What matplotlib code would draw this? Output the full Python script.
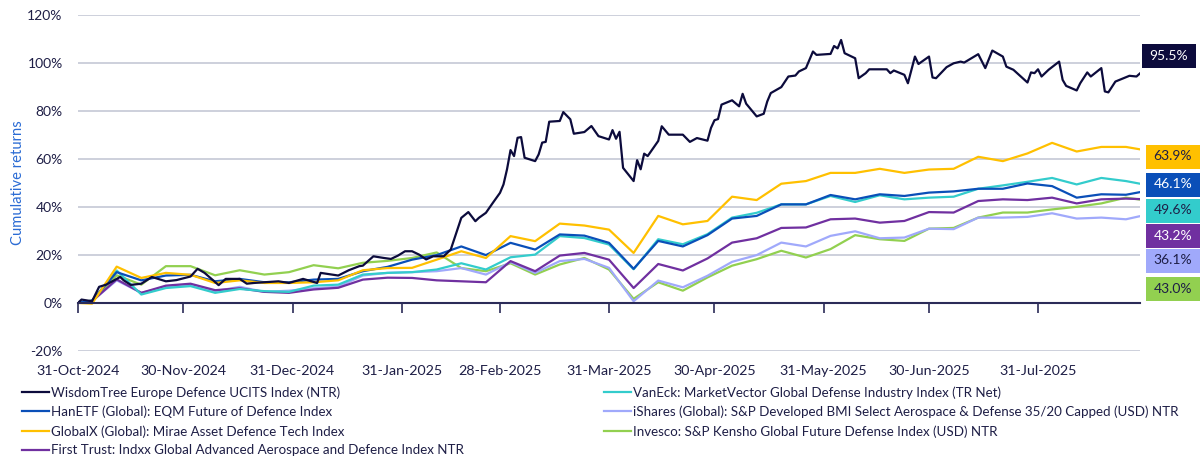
import matplotlib
matplotlib.use("Agg")
import matplotlib.pyplot as plt
from matplotlib.patches import Rectangle
from matplotlib.ticker import FuncFormatter
import pandas as pd

plt.rcParams["font.family"] = ["Lato", "DejaVu Sans"]

# weekly readings (Mondays) for the six peer indices, cumulative return in %
weekly_dates = [
    "2024-10-31", "2024-11-04", "2024-11-11", "2024-11-18", "2024-11-25",
    "2024-12-02", "2024-12-09", "2024-12-16", "2024-12-23", "2024-12-30",
    "2025-01-06", "2025-01-13", "2025-01-20", "2025-01-27", "2025-02-03",
    "2025-02-10", "2025-02-17", "2025-02-24", "2025-03-03", "2025-03-10",
    "2025-03-17", "2025-03-24", "2025-03-31", "2025-04-07", "2025-04-14",
    "2025-04-21", "2025-04-28", "2025-05-05", "2025-05-12", "2025-05-19",
    "2025-05-26", "2025-06-02", "2025-06-09", "2025-06-16", "2025-06-23",
    "2025-06-30", "2025-07-07", "2025-07-14", "2025-07-21", "2025-07-28",
    "2025-08-04", "2025-08-11", "2025-08-18", "2025-08-25", "2025-08-29",
]
hanetf = [0, 1.0, 12.8, 9.4, 11.4, 11.7, 9.0, 10.0, 8.6, 8.6, 9.7, 10.0, 13.2, 15.0, 18.0,
          19.9, 23.5, 19.9, 25.0, 22.2, 28.5, 28.0, 25.0, 14.2, 25.8, 23.5, 28.2, 35.1, 36.2, 41.0,
          41.0, 44.9, 43.1, 45.2, 44.5, 45.9, 46.4, 47.5, 47.5, 49.7, 48.6, 43.8, 45.2, 45.0, 46.1]
globalx = [0, -0.3, 15.1, 10.4, 12.5, 11.7, 8.3, 9.4, 8.3, 8.3, 8.6, 9.4, 13.6, 14.5, 14.6,
           18.0, 21.5, 18.7, 27.8, 25.7, 33.0, 32.2, 30.5, 20.8, 36.2, 32.7, 34.1, 44.2, 42.8, 49.6,
           50.7, 54.1, 54.1, 55.8, 54.1, 55.5, 55.8, 60.8, 59.0, 62.2, 66.6, 63.0, 64.9, 64.9, 63.9]
vaneck = [0, 0.8, 13.5, 3.5, 6.2, 7.0, 4.2, 5.8, 4.9, 4.6, 7.2, 7.6, 11.8, 12.5, 12.8,
          13.9, 16.5, 13.9, 19.0, 20.1, 27.8, 27.0, 24.3, 14.0, 26.5, 24.4, 28.6, 35.5, 37.5, 41.0,
          41.0, 44.5, 42.0, 44.8, 43.1, 43.8, 44.2, 47.5, 48.9, 50.4, 52.0, 49.3, 52.0, 50.7, 49.6]
first_trust = [0, 0.7, 9.8, 4.2, 7.2, 8.0, 5.3, 6.1, 4.6, 4.2, 5.6, 6.3, 9.7, 10.5, 10.4,
               9.4, 9.0, 8.6, 17.4, 13.2, 19.7, 20.8, 18.0, 6.2, 16.2, 13.5, 18.5, 25.1, 26.9, 31.2,
               31.4, 34.8, 35.1, 33.4, 34.1, 37.8, 37.6, 42.4, 43.1, 42.8, 43.8, 41.4, 43.1, 43.4, 43.2]
ishares = [0, 0.8, 9.4, 4.2, 6.7, 7.5, 4.9, 6.7, 4.6, 5.1, 6.1, 6.7, 11.4, 12.5, 12.8,
           13.2, 14.5, 11.8, 17.0, 12.5, 17.4, 18.3, 14.6, 0.7, 9.3, 6.5, 11.3, 17.1, 19.9, 25.1,
           23.5, 27.9, 29.8, 26.9, 27.2, 30.9, 30.7, 35.5, 35.5, 35.8, 37.3, 35.1, 35.5, 34.8, 36.1]
invesco = [0, 1.0, 11.5, 7.6, 15.3, 15.3, 11.5, 13.6, 11.8, 12.8, 15.7, 14.4, 16.7, 17.5, 18.7,
           21.0, 14.5, 13.2, 16.5, 11.8, 16.0, 18.7, 13.9, 1.7, 8.6, 5.1, 10.6, 15.5, 18.2, 21.7,
           18.9, 22.4, 28.2, 26.5, 25.8, 30.9, 31.2, 35.5, 37.6, 37.6, 38.9, 40.0, 41.4, 43.8, 43.0]

# WisdomTree read at its turning points
wisdomtree_dates = [
    "2024-10-31", "2024-11-01", "2024-11-04", "2024-11-06", "2024-11-08", "2024-11-12",
    "2024-11-13", "2024-11-15", "2024-11-18", "2024-11-21", "2024-11-25", "2024-11-28",
    "2024-12-02", "2024-12-04", "2024-12-06", "2024-12-10", "2024-12-12", "2024-12-16",
    "2024-12-18", "2024-12-20", "2024-12-27", "2024-12-30", "2025-01-03", "2025-01-07",
    "2025-01-08", "2025-01-13", "2025-01-16", "2025-01-19", "2025-01-20", "2025-01-23",
    "2025-01-26", "2025-01-28", "2025-01-30", "2025-02-01", "2025-02-03", "2025-02-05",
    "2025-02-07", "2025-02-09", "2025-02-12", "2025-02-14", "2025-02-17", "2025-02-19",
    "2025-02-21", "2025-02-22", "2025-02-24", "2025-02-26", "2025-02-28", "2025-03-01",
    "2025-03-02", "2025-03-03", "2025-03-04", "2025-03-05", "2025-03-06", "2025-03-07",
    "2025-03-10", "2025-03-11", "2025-03-12", "2025-03-13", "2025-03-14", "2025-03-17",
    "2025-03-18", "2025-03-20", "2025-03-21", "2025-03-24", "2025-03-26", "2025-03-28",
    "2025-03-31", "2025-04-01", "2025-04-02", "2025-04-03", "2025-04-04", "2025-04-07",
    "2025-04-08", "2025-04-09", "2025-04-10", "2025-04-11", "2025-04-14", "2025-04-15",
    "2025-04-17", "2025-04-21", "2025-04-23", "2025-04-25", "2025-04-28", "2025-04-29",
    "2025-04-30", "2025-05-01", "2025-05-02", "2025-05-05", "2025-05-07", "2025-05-08",
    "2025-05-09", "2025-05-12", "2025-05-14", "2025-05-15", "2025-05-16", "2025-05-19",
    "2025-05-21", "2025-05-23", "2025-05-24", "2025-05-26", "2025-05-28", "2025-05-29",
    "2025-06-02", "2025-06-03", "2025-06-04", "2025-06-05", "2025-06-06", "2025-06-09",
    "2025-06-10", "2025-06-12", "2025-06-13", "2025-06-16", "2025-06-18", "2025-06-19",
    "2025-06-20", "2025-06-23", "2025-06-24", "2025-06-26", "2025-06-27", "2025-06-30",
    "2025-07-01", "2025-07-02", "2025-07-05", "2025-07-07", "2025-07-09", "2025-07-10",
    "2025-07-14", "2025-07-16", "2025-07-18", "2025-07-21", "2025-07-22", "2025-07-24",
    "2025-07-28", "2025-07-29", "2025-07-30", "2025-07-31", "2025-08-01", "2025-08-03",
    "2025-08-06", "2025-08-07", "2025-08-08", "2025-08-11", "2025-08-12", "2025-08-14",
    "2025-08-15", "2025-08-18", "2025-08-19", "2025-08-20", "2025-08-22", "2025-08-26",
    "2025-08-28", "2025-08-29",
]
wisdomtree = [
    0, 1.4, 0.7, 6.7, 7.6, 10.8, 9.4, 7.5, 8.0, 10.8, 9.0, 9.5,
    11.0, 14.2, 12.5, 7.4, 10.0, 10.0, 8.0, 8.3, 9.0, 8.3, 10.0, 8.3,
    12.5, 11.4, 13.6, 15.3, 15.5, 19.4, 18.7, 18.3, 19.7, 21.5, 21.5, 20.1,
    18.1, 19.4, 19.4, 22.2, 35.4, 37.8, 34.0, 35.4, 37.5, 41.7, 45.8, 49.3,
    55.6, 63.6, 61.1, 68.7, 69.0, 60.4, 59.0, 61.8, 66.7, 67.0, 75.4, 75.7,
    79.4, 76.4, 70.4, 71.1, 73.6, 69.4, 68.0, 71.9, 68.3, 71.2, 56.2, 50.7,
    59.4, 55.6, 62.1, 61.1, 67.4, 73.5, 70.0, 70.0, 67.0, 68.6, 67.5, 72.8,
    76.0, 76.5, 82.5, 84.3, 81.8, 87.0, 82.9, 77.6, 78.7, 83.8, 87.3, 89.8,
    94.2, 94.6, 96.3, 97.7, 104.6, 103.2, 103.6, 106.9, 105.9, 109.4, 103.9, 101.8,
    93.5, 95.6, 97.2, 97.2, 97.2, 95.6, 96.7, 94.9, 91.4, 102.5, 99.4, 102.5,
    93.8, 93.5, 98.1, 99.7, 100.4, 100.0, 103.5, 97.7, 105.0, 102.5, 98.3, 97.0,
    91.7, 95.9, 95.6, 97.2, 94.2, 97.0, 100.4, 92.8, 90.3, 88.4, 91.4, 95.9,
    94.2, 97.7, 88.0, 87.6, 92.1, 94.5, 94.2, 95.5,
]

month_ends = ["2024-10-31", "2024-11-30", "2024-12-31", "2025-01-31", "2025-02-28",
              "2025-03-31", "2025-04-30", "2025-05-31", "2025-06-30", "2025-07-31"]
month_labels = ["31-Oct-2024", "30-Nov-2024", "31-Dec-2024", "31-Jan-2025", "28-Feb-2025",
                "31-Mar-2025", "30-Apr-2025", "31-May-2025", "30-Jun-2025", "31-Jul-2025"]

NAVY = "#0c0b3c"
TEXT = "#1e1e46"

# name, dates, values, colour, label text colour, label box (x, y centre in px)
series = [
    ("WisdomTree Europe Defence UCITS Index (NTR)", wisdomtree_dates, wisdomtree, NAVY, "white", (1169, 56)),
    ("HanETF (Global): EQM Future of Defence Index", weekly_dates, hanetf, "#0a4fb8", "white", (1173, 184.5)),
    ("GlobalX (Global): Mirae Asset Defence Tech Index", weekly_dates, globalx, "#ffc000", TEXT, (1173, 156.5)),
    ("First Trust: Indxx Global Advanced Aerospace and Defence Index NTR", weekly_dates, first_trust, "#7030a0", "white", (1173, 235.5)),
    ("VanEck: MarketVector Global Defense Industry Index (TR Net)", weekly_dates, vaneck, "#33cccc", TEXT, (1173, 210.5)),
    ("iShares (Global): S&P Developed BMI Select Aerospace & Defense 35/20 Capped (USD) NTR", weekly_dates, ishares, "#a0a9fb", TEXT, (1173, 260.5)),
    ("Invesco: S&P Kensho Global Future Defense Index (USD) NTR", weekly_dates, invesco, "#92d050", TEXT, (1173, 289)),
]
draw_order = [6, 5, 3, 4, 1, 2, 0]

W, H = 1200, 462
fig, ax = plt.subplots(figsize=(W / 100, H / 100), dpi=100)
fig.subplots_adjust(left=78 / W, right=1140 / W, bottom=1 - 351 / H, top=1 - 14.5 / H)

handles = {}
for i in draw_order:
    name, dates, vals, color, _, _ = series[i]
    line, = ax.plot(pd.to_datetime(dates), vals, color=color, lw=1.6, label=name,
                    solid_joinstyle="round")
    handles[i] = line

ax.set_xlim(pd.Timestamp("2024-10-31"), pd.Timestamp("2025-08-29"))
ax.set_ylim(-20, 120)
ax.set_yticks(range(-20, 121, 20))
ax.yaxis.set_major_formatter(FuncFormatter(lambda v, p: f"{v:.0f}%"))
ax.grid(axis="y", color="#c9cdd9", lw=1.3)
ax.set_axisbelow(True)

for side in ["top", "right", "left"]:
    ax.spines[side].set_visible(False)
ax.spines["bottom"].set_position(("data", 0))
ax.spines["bottom"].set_color("#2b2b58")
ax.spines["bottom"].set_linewidth(1.5)

ax.set_xticks(pd.to_datetime(month_ends))
ax.set_xticklabels(month_labels)
ax.tick_params(axis="x", length=7, width=1.2, color="#2b2b58", pad=38,
               labelcolor=TEXT, labelsize=10.3)
ax.tick_params(axis="y", length=0, pad=11, labelcolor=TEXT, labelsize=10)
ax.set_ylabel("Cumulative returns", color="#2a6bd4", fontsize=10.6, labelpad=2)

# end-value boxes on the right
for name, dates, vals, color, tcolor, (cx, cy) in series:
    bw, bh = 54, 24
    fig.add_artist(Rectangle(((cx - bw / 2) / W, 1 - (cy + bh / 2) / H), bw / W, bh / H,
                             transform=fig.transFigure, facecolor=color, edgecolor="none"))
    fig.text(cx / W, 1 - cy / H, f"{vals[-1]:.1f}%", color=tcolor, fontsize=10,
             ha="center", va="center")

leg_kw = dict(frameon=False, fontsize=9.6, handlelength=2.0, handletextpad=0.15,
              labelspacing=0.52, borderpad=0, borderaxespad=0, labelcolor=TEXT)
leg1 = fig.legend([handles[i] for i in [0, 1, 2, 3]], [series[i][0] for i in [0, 1, 2, 3]],
                  loc="upper left", bbox_to_anchor=(22 / W, 1 - 386 / H), **leg_kw)
leg2 = fig.legend([handles[i] for i in [4, 5, 6]], [series[i][0] for i in [4, 5, 6]],
                  loc="upper left", bbox_to_anchor=(604 / W, 1 - 386 / H), **leg_kw)

fig.savefig("out.png", dpi=100, facecolor="white")
